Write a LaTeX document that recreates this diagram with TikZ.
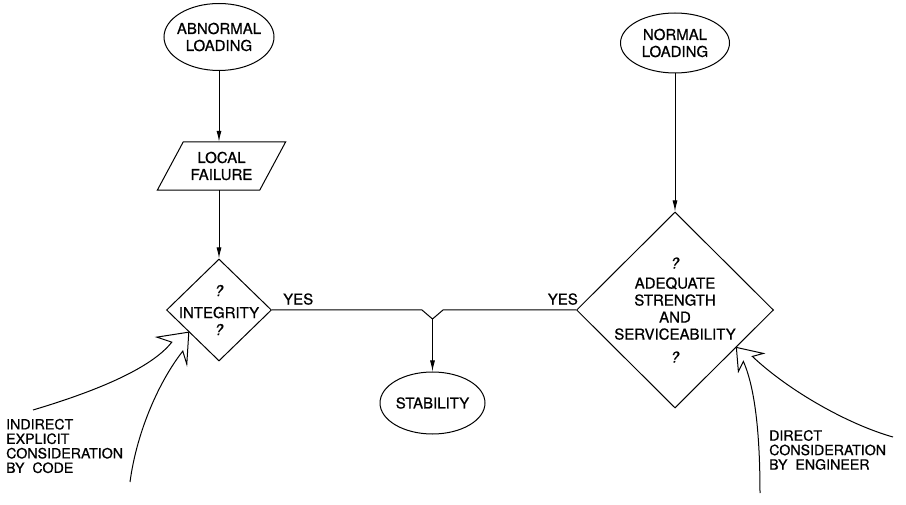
\documentclass[tikz,border=0pt]{standalone}
\usepackage{fontspec}
\setmainfont{TeX Gyre Heros}[FakeBold=0.7]
\usetikzlibrary{shapes.geometric,arrows.meta,calc,positioning}

\newcommand{\lbltxt}{\fontsize{15}{17}\selectfont}

\tikzset{
    terminal/.style={ellipse, draw, line width=1pt, inner sep=0pt},
    decision/.style={diamond, draw, line width=1pt, inner sep=0pt},
    iobox/.style={align=center, font=\lbltxt, minimum width=102, minimum height=48, inner sep=0pt},
    inner/.style={align=center, font=\lbltxt, inner sep=0pt},
    flow/.style={line width=1pt, -{Latex[length=11pt,width=5pt]}},
    anno/.style={line width=1pt, line join=miter},
    note/.style={align=left, anchor=west, font=\fontsize{14.2}{14.5}\selectfont, inner sep=0pt},
}

\begin{document}
\begin{tikzpicture}[x=1pt,y=1pt]

    \useasboundingbox (0,-505) rectangle (906,0);

    % Loadings
    \node[terminal, minimum width=110, minimum height=67,
          label={[inner]center:{ABNORMAL\\LOADING}}] (abn) at (219,-37) {};
    \node[terminal, minimum width=109, minimum height=60,
          label={[inner]center:{NORMAL\\LOADING}}] (norm) at (675,-43) {};

    % Local failure (parallelogram)
    \node[iobox] (local) at (221.5,-166) {LOCAL\\FAILURE};
    \draw[line width=1pt] ([xshift=-13]local.south west) -- ([xshift=-13]local.south east)
        -- ([xshift=13]local.north east) -- ([xshift=13]local.north west) -- cycle;

    % Decisions
    \node[decision, minimum width=105, minimum height=102,
          label={[inner]center:{\itshape ?\\[5pt]INTEGRITY\\\itshape ?}}] (integ) at (219,-310) {};
    \node[decision, minimum width=197, minimum height=196,
          label={[inner]center:{\itshape ?\\[3pt]ADEQUATE\\STRENGTH\\AND\\SERVICEABILITY\\[6pt]\itshape ?}}] (adeq) at (675,-310) {};

    % Stability
    \node[terminal, minimum width=105, minimum height=62,
          label={[inner]center:{STABILITY}}] (stab) at (432.5,-403) {};

    \node[inner, anchor=south west] (yesl) at ([xshift=11,yshift=5]integ.east) {YES};
    \node[inner, anchor=south east] (yesr) at ([xshift=2,yshift=5]adeq.west) {YES};

    % Flow lines
    \draw[flow] (abn.south) -- (abn.south |- local.north);
    \draw[flow] (local.south -| integ.north) -- (integ.north);
    \draw[flow] (norm.south) -- (adeq.north);

    \coordinate (vjoin) at (432.5,-319);
    \draw[line width=1pt] (integ.east) -- ([xshift=-10.5,yshift=9]vjoin) -- (vjoin)
        -- ([xshift=10.5,yshift=9]vjoin) -- (adeq.west);
    \draw[flow] (vjoin) -- (stab.north);

    % Consideration arrows
    \coordinate (ltip) at ($(integ.west)!0.43!(integ.south)$);
    \coordinate (rtip) at ($(adeq.east)!0.38!(adeq.south)$);
    \coordinate (l1s) at (33,-410);
    \coordinate (l2s) at (130,-482);
    \coordinate (r1s) at (893,-437);
    \coordinate (r2s) at (760,-493);

    \draw[anno] (l1s) .. controls (90,-393) and (150,-370) .. ($(ltip)+(-17,-10)$)
        -- ($(ltip)+(-32,-5)$) -- (ltip);
    \draw[anno] (l2s) .. controls (137,-430) and (160,-380) .. ($(ltip)+(-6,-19)$)
        -- ($(ltip)+(-2,-32)$) -- (ltip);
    \draw[anno] (r1s) .. controls (850,-425) and (790,-392) .. ($(rtip)+(16,-9)$)
        -- ($(rtip)+(27,-6)$) -- (rtip);
    \draw[anno] (r2s) .. controls (760,-440) and (756,-390) .. ($(rtip)+(7,-14)$)
        -- ($(rtip)+(2,-24)$) -- (rtip);

    \node[note] (codenote) at (6,-446) {INDIRECT\\EXPLICIT\\CONSIDERATION\\BY~~CODE};
    \node[note] (engnote) at (769,-450) {DIRECT\\CONSIDERATION\\BY~~ENGINEER};

\end{tikzpicture}
\end{document}
